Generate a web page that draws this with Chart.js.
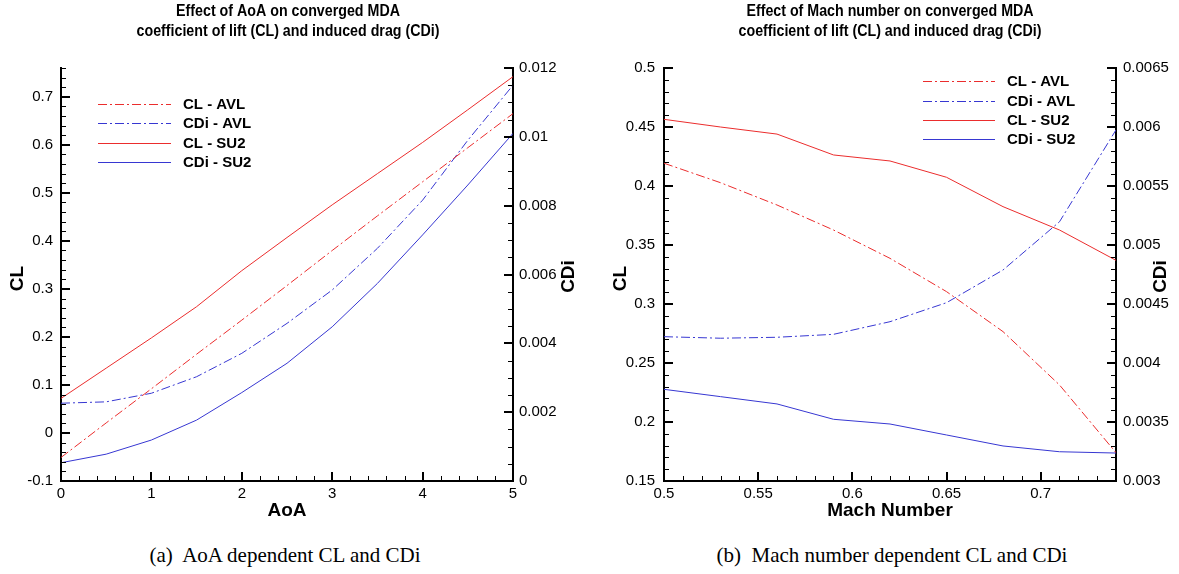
<!DOCTYPE html>
<html><head><meta charset="utf-8">
<script src="https://cdn.jsdelivr.net/npm/chart.js@4.4.0/dist/chart.umd.min.js"></script>
<style>
html,body{margin:0;padding:0;background:#fff}
body{width:1179px;height:574px;overflow:hidden;position:relative}
#c1{position:absolute;left:0;top:0}
#c2{position:absolute;left:590px;top:0}
.cap{position:absolute;top:541px;line-height:28px;font-family:"Liberation Serif","Times New Roman",serif;font-size:21px;white-space:nowrap;transform:translateX(-50%);color:#000}
</style></head><body>
<canvas id="c1" width="590" height="530"></canvas>
<canvas id="c2" width="589" height="530"></canvas>
<div class="cap" style="left:285px">(a)&nbsp; AoA dependent CL and CDi</div>
<div class="cap" style="left:892px">(b)&nbsp; Mach number dependent CL and CDi</div>
<script>
// ---------- data: chart (a) ----------
const aoa        = [0, 0.5, 1, 1.5, 2, 2.5, 3, 3.5, 4, 4.5, 5];
const aoaCL_AVL  = [-0.051, 0.021, 0.092, 0.164, 0.235, 0.307, 0.380, 0.452, 0.523, 0.594, 0.665];
const aoaCDi_AVL = [0.00226, 0.00230, 0.00255, 0.00303, 0.00371, 0.00458, 0.00555, 0.00676, 0.00816, 0.0099, 0.0115];
const aoaCL_SU2  = [0.072, 0.135, 0.198, 0.263, 0.338, 0.407, 0.475, 0.540, 0.605, 0.673, 0.742];
const aoaCDi_SU2 = [0.00053, 0.00078, 0.00119, 0.00177, 0.00257, 0.00342, 0.00448, 0.00574, 0.00715, 0.0086, 0.0101];
// ---------- data: chart (b) ----------
const mach        = [0.5, 0.53, 0.56, 0.59, 0.62, 0.65, 0.68, 0.71, 0.74];
const machCL_AVL  = [0.4193, 0.4028, 0.3839, 0.3627, 0.3387, 0.3105, 0.2766, 0.2314, 0.174];
const machCDi_AVL = [0.004223, 0.004210, 0.004218, 0.004243, 0.004350, 0.004511, 0.004788, 0.005197, 0.005975];
const machCL_SU2  = [0.4565, 0.4500, 0.4440, 0.4263, 0.4212, 0.4074, 0.3825, 0.3627, 0.337];
const machCDi_SU2 = [0.003777, 0.003715, 0.003653, 0.003523, 0.003483, 0.003390, 0.003297, 0.003248, 0.003237];
// ---------- labels ----------
const seriesNames = ['CL - AVL', 'CDi - AVL', 'CL - SU2', 'CDi - SU2'];
const titleA = ['Effect of AoA on converged MDA', 'coefficient of lift (CL) and induced drag (CDi)'];
const titleB = ['Effect of Mach number on converged MDA', 'coefficient of lift (CL) and induced drag (CDi)'];

const RED = 'rgb(235,45,45)';
const BLUE = 'rgb(55,55,210)';
const DASHDOT = [9, 3, 2, 3];
const FONT = '"Liberation Sans", Arial, Helvetica, sans-serif';
Chart.defaults.font.family = FONT;
Chart.defaults.color = '#000';

function pts(xs, ys) { return xs.map((x, i) => ({x: x, y: ys[i]})); }
function fmt(v) { return String(+(+v).toFixed(6)); }

const tecplot = {
  id: 'tecplot',
  afterDraw(chart, args, o) {
    const ctx = chart.ctx, ca = chart.chartArea;
    ctx.save();
    ctx.strokeStyle = '#000';
    // inward ticks
    for (const id of ['x', 'y', 'y1']) {
      const s = chart.scales[id];
      const ms = o.step[id] / o.minor[id];
      const k0 = Math.ceil(s.min / ms - 1e-6), k1 = Math.floor(s.max / ms + 1e-6);
      for (let k = k0; k <= k1; k++) {
        const major = (k % o.minor[id]) === 0;
        const len = major ? 9 : 5;
        ctx.lineWidth = major ? 2 : 1;
        const v = k * ms;
        ctx.beginPath();
        const p = Math.round(s.getPixelForValue(v)) + (major ? 0 : 0.5);
        if (id === 'x') { ctx.moveTo(p, ca.bottom); ctx.lineTo(p, ca.bottom - len); }
        else if (id === 'y') { ctx.moveTo(ca.left, p); ctx.lineTo(ca.left + len, p); }
        else { ctx.moveTo(ca.right, p); ctx.lineTo(ca.right - len, p); }
        ctx.stroke();
      }
    }
    const cx = (ca.left + ca.right) / 2, cy = (ca.top + ca.bottom) / 2;
    ctx.fillStyle = '#000';
    ctx.textAlign = 'center';
    ctx.textBaseline = 'middle';
    // chart title (slightly condensed, as in the original)
    ctx.font = 'bold 16px ' + FONT;
    o.title.forEach((t, i) => {
      ctx.save();
      ctx.translate(cx + o.titleDx, 12 + i * 20);
      ctx.scale(0.89, 1);
      ctx.fillText(t, 0, 0);
      ctx.restore();
    });
    // axis titles
    ctx.font = 'bold 19px ' + FONT;
    ctx.fillText(o.xTitle, cx, 511);
    ctx.save(); ctx.translate(o.yTitleX, cy + 4); ctx.rotate(-Math.PI / 2); ctx.fillText('CL', 0, 0); ctx.restore();
    ctx.save(); ctx.translate(o.y1TitleX, cy + 2); ctx.rotate(-Math.PI / 2); ctx.fillText('CDi', 0, 0); ctx.restore();
    // legend
    const L = o.legend;
    ctx.textAlign = 'left';
    ctx.font = 'bold 15px ' + FONT;
    chart.data.datasets.forEach((ds, i) => {
      const y = L.ys[i];
      ctx.save();
      ctx.strokeStyle = ds.borderColor;
      ctx.lineWidth = 1;
      ctx.setLineDash(ds.borderDash || []);
      ctx.beginPath(); ctx.moveTo(L.x1, y + 0.5); ctx.lineTo(L.x2, y + 0.5); ctx.stroke();
      ctx.restore();
      ctx.fillText(ds.label, L.tx, y + 1);
    });
    ctx.restore();
  }
};

function makeDatasets(xs, clA, cdA, clS, cdS) {
  const base = {borderWidth: 1, pointRadius: 0, tension: 0, fill: false};
  return [
    Object.assign({label: seriesNames[0], data: pts(xs, clA), borderColor: RED, borderDash: DASHDOT, yAxisID: 'y'}, base),
    Object.assign({label: seriesNames[1], data: pts(xs, cdA), borderColor: BLUE, borderDash: DASHDOT, yAxisID: 'y1'}, base),
    Object.assign({label: seriesNames[2], data: pts(xs, clS), borderColor: RED, yAxisID: 'y'}, base),
    Object.assign({label: seriesNames[3], data: pts(xs, cdS), borderColor: BLUE, yAxisID: 'y1'}, base)
  ];
}

function axis(extra, fitProp, fitVal, pad) {
  return Object.assign({
    type: 'linear',
    grid: {display: false, drawTicks: false},
    border: {display: true, width: 2, color: '#000'},
    afterFit: s => { s[fitProp] = fitVal; }
  }, extra, {ticks: Object.assign({font: {size: 15}, color: '#000', padding: pad, includeBounds: false, callback: fmt, maxRotation: 0, autoSkip: false}, extra.ticks || {})});
}

new Chart(document.getElementById('c1'), {
  type: 'line',
  data: {datasets: makeDatasets(aoa, aoaCL_AVL, aoaCDi_AVL, aoaCL_SU2, aoaCDi_SU2)},
  options: {
    responsive: false, animation: false, events: [],
    layout: {padding: {top: 68, left: 0, right: 0, bottom: 0}},
    plugins: {legend: {display: false}, title: {display: false}, tooltip: {enabled: false},
      tecplot: {step: {x: 1, y: 0.1, y1: 0.002}, minor: {x: 5, y: 5, y1: 4},
        title: titleA, titleDx: 1, xTitle: 'AoA', yTitleX: 18, y1TitleX: 569,
        legend: {x1: 98, x2: 171, tx: 183, ys: [104, 123, 143, 162]}}},
    scales: {
      x: axis({position: 'bottom', min: 0, max: 5, ticks: {stepSize: 1}}, 'height', 49, 4),
      y: axis({position: 'left', min: -0.1, max: 0.76, ticks: {stepSize: 0.1}}, 'width', 61, 8),
      y1: axis({position: 'right', min: 0, max: 0.012, ticks: {stepSize: 0.002}}, 'width', 77, 6)
    }
  },
  plugins: [tecplot]
});

new Chart(document.getElementById('c2'), {
  type: 'line',
  data: {datasets: makeDatasets(mach, machCL_AVL, machCDi_AVL, machCL_SU2, machCDi_SU2)},
  options: {
    responsive: false, animation: false, events: [],
    layout: {padding: {top: 68, left: 0, right: 0, bottom: 0}},
    plugins: {legend: {display: false}, title: {display: false}, tooltip: {enabled: false},
      tecplot: {step: {x: 0.05, y: 0.05, y1: 0.0005}, minor: {x: 5, y: 5, y1: 5},
        title: titleB, titleDx: 0, xTitle: 'Mach Number', yTitleX: 31, y1TitleX: 571,
        legend: {x1: 333, x2: 405, tx: 417, ys: [81, 101, 120, 139]}}},
    scales: {
      x: axis({position: 'bottom', min: 0.5, max: 0.74, ticks: {stepSize: 0.05}}, 'height', 49, 4),
      y: axis({position: 'left', min: 0.15, max: 0.5, ticks: {stepSize: 0.05}}, 'width', 74, 9),
      y1: axis({position: 'right', min: 0.003, max: 0.0065, ticks: {stepSize: 0.0005}}, 'width', 63, 7)
    }
  },
  plugins: [tecplot]
});
</script>
</body></html>
